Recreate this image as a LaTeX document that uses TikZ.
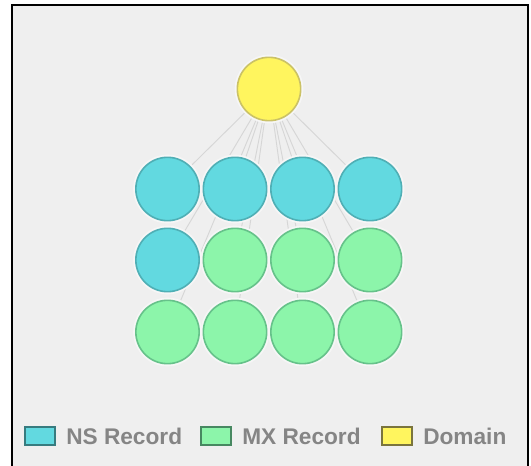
\documentclass[tikz,border=0pt]{standalone}
\usepackage{fontspec}
\setmainfont{Liberation Sans}
\usetikzlibrary{positioning, backgrounds}
\definecolor{panel}{HTML}{EFEFEF}
\definecolor{halo}{HTML}{F6F6F6}
\definecolor{nsfill}{HTML}{62D9E0}
\definecolor{nsline}{HTML}{4FAFB5}
\definecolor{mxfill}{HTML}{8CF5AA}
\definecolor{mxline}{HTML}{66C28A}
\definecolor{domfill}{HTML}{FFF55E}
\definecolor{domline}{HTML}{CBC266}
\definecolor{legtext}{HTML}{858585}
\definecolor{edgegray}{HTML}{D6D6D6}

\begin{document}
\begin{tikzpicture}[x=0.75pt, y=-0.75pt,
    every node/.style={font=\fontsize{17}{20}\selectfont\bfseries},
    rec/.style={circle, line width=1.2pt, minimum size=47.5pt, inner sep=0pt,
        preaction={draw=halo, line width=4pt}},
    ns/.style={rec, draw=nsline, fill=nsfill},
    mx/.style={rec, draw=mxline, fill=mxfill},
    dom/.style={rec, draw=domline, fill=domfill},
    key/.style={rectangle, line width=1.5pt, minimum width=22.5pt, minimum height=14pt, inner sep=0pt},
    keytext/.style={color=legtext, inner sep=0pt, right=7.5pt of #1},
    edge/.style={color=edgegray, line width=0.7pt}
]

\useasboundingbox (0,0) rectangle (531,466);

\node[dom] (domain) at (269,89) {};

% records
\node[ns] (ns1) at (167.5,189) {};
\node[ns] (ns2) at (235,189) {};
\node[ns] (ns3) at (302.5,189) {};
\node[ns] (ns4) at (370,189) {};
\node[ns] (ns5) at (167.5,260) {};
\node[mx] (mx1) at (235,260) {};
\node[mx] (mx2) at (302.5,260) {};
\node[mx] (mx3) at (370,260) {};
\node[mx] (mx4) at (167.5,332) {};
\node[mx] (mx5) at (235,332) {};
\node[mx] (mx6) at (302.5,332) {};
\node[mx] (mx7) at (370,332) {};

\begin{scope}[on background layer]
% panel and frame
\fill[white] (0,0) rectangle (531,466);
\fill[panel] (12,5) rectangle (528,466);
\draw[line width=2.2pt] (12,466) -- (12,5) -- (528,5) -- (528,466);
\draw[edge] (domain.center) -- (ns1.center);
\draw[edge] (domain.center) -- (ns2.center);
\draw[edge] (domain.center) -- (ns3.center);
\draw[edge] (domain.center) -- (ns4.center);
\draw[edge] (domain.center) -- (ns5.center);
\draw[edge] (domain.center) -- (mx1.center);
\draw[edge] (domain.center) -- (mx2.center);
\draw[edge] (domain.center) -- (mx3.center);
\draw[edge] (domain.center) -- (mx4.center);
\draw[edge] (domain.center) -- (mx5.center);
\draw[edge] (domain.center) -- (mx6.center);
\draw[edge] (domain.center) -- (mx7.center);
\end{scope}

% legend
\node[key, draw=nsline!70!black, fill=nsfill] (nskey) at (40,436) {};
\node[keytext=nskey, anchor=west] (nslabel) {NS Record};
\node[key, draw=mxline!70!black, fill=mxfill] (mxkey) at (216,436) {};
\node[keytext=mxkey, anchor=west] (mxlabel) {MX Record};
\node[key, draw=domline!60!black, fill=domfill] (domkey) at (397,436) {};
\node[keytext=domkey, anchor=west] (domlabel) {Domain};

\end{tikzpicture}
\end{document}
